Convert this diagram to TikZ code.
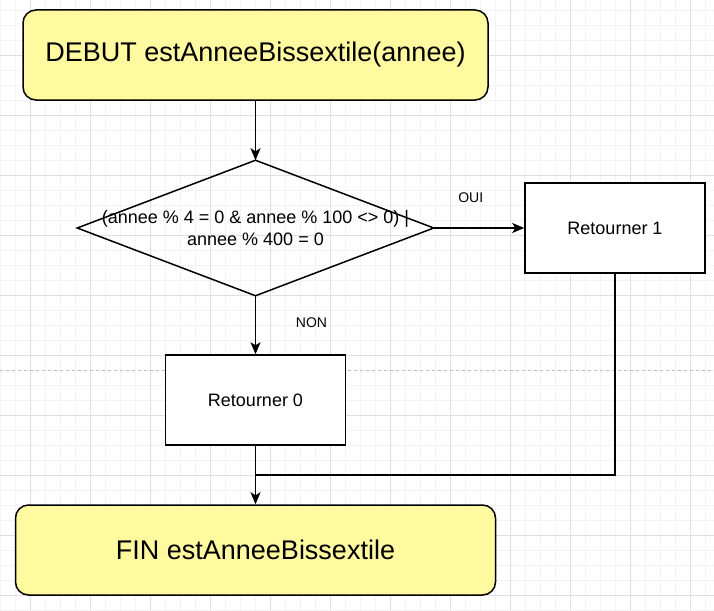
\documentclass[tikz,border=0pt]{standalone}
\usepackage{fontspec}
\setmainfont{Liberation Sans}
\usetikzlibrary{arrows.meta}
\definecolor{termfill}{HTML}{FFFA9F}
\definecolor{gridminor}{HTML}{F3F3F3}
\definecolor{gridmajor}{HTML}{E0E0E0}
\begin{document}
\begin{tikzpicture}[x=1pt, y=-1pt, line width=1.5pt,
  terminal/.style={draw, fill=termfill, rounded corners=13pt, minimum height=90pt, font=\fontsize{27}{32}\selectfont},
  action/.style={draw, fill=white, minimum width=180pt, minimum height=90pt, font=\fontsize{18}{22}\selectfont},
  branch/.style={font=\fontsize{14}{16}\selectfont},
  flow/.style={-{Stealth[length=12pt, width=10pt, inset=3pt]}}]
\useasboundingbox (0,0) rectangle (714,610);
\fill [white] (0,0) rectangle (714,610);
\foreach \x in {0.3,15.3,...,714} \draw [gridminor, line width=0.75pt] (\x,0) -- (\x,610);
\foreach \y in {10,25,...,610} \draw [gridminor, line width=0.75pt] (0,\y) -- (714,\y);
\foreach \x in {30.3,90.3,...,714} \draw [gridmajor, line width=0.75pt] (\x,0) -- (\x,610);
\foreach \y in {55,115,...,610} \draw [gridmajor, line width=0.75pt] (0,\y) -- (714,\y);
\draw [gray!50, line width=0.75pt, dash pattern=on 3pt off 3pt] (0,370) -- (714,370);
\node [terminal, minimum width=465pt] (debut) at (255.5,55) {DEBUT estAnneeBissextile(annee)};
\node [minimum width=355pt, minimum height=134pt, inner sep=0pt, align=center, font=\fontsize{18}{22}\selectfont] (cond) at (255.5,228) {(annee \% 4 = 0 \& annee \% 100 <> 0) |\\annee \% 400 = 0};
\draw (cond.north) -- (cond.east) -- (cond.south) -- (cond.west) -- cycle;
\node [action] (ret1) at (615,228) {Retourner 1};
\node [action] (ret0) at (255.5,400) {Retourner 0};
\node [terminal, minimum width=480pt] (fin) at (255.5,550) {FIN estAnneeBissextile};
\coordinate (merge) at (255.5,475);
\draw [flow] (debut) -- (cond.north);
\draw [flow] (cond.east) -- (ret1);
\draw (cond.east) ++(37,-30) node [branch] (oui) {OUI};
\draw [flow] (cond.south) -- (ret0);
\draw (cond.south) ++(56,27) node [branch] (non) {NON};
\draw [flow] (ret0) -- (fin);
\draw (ret1) |- (merge);
\end{tikzpicture}
\end{document}
